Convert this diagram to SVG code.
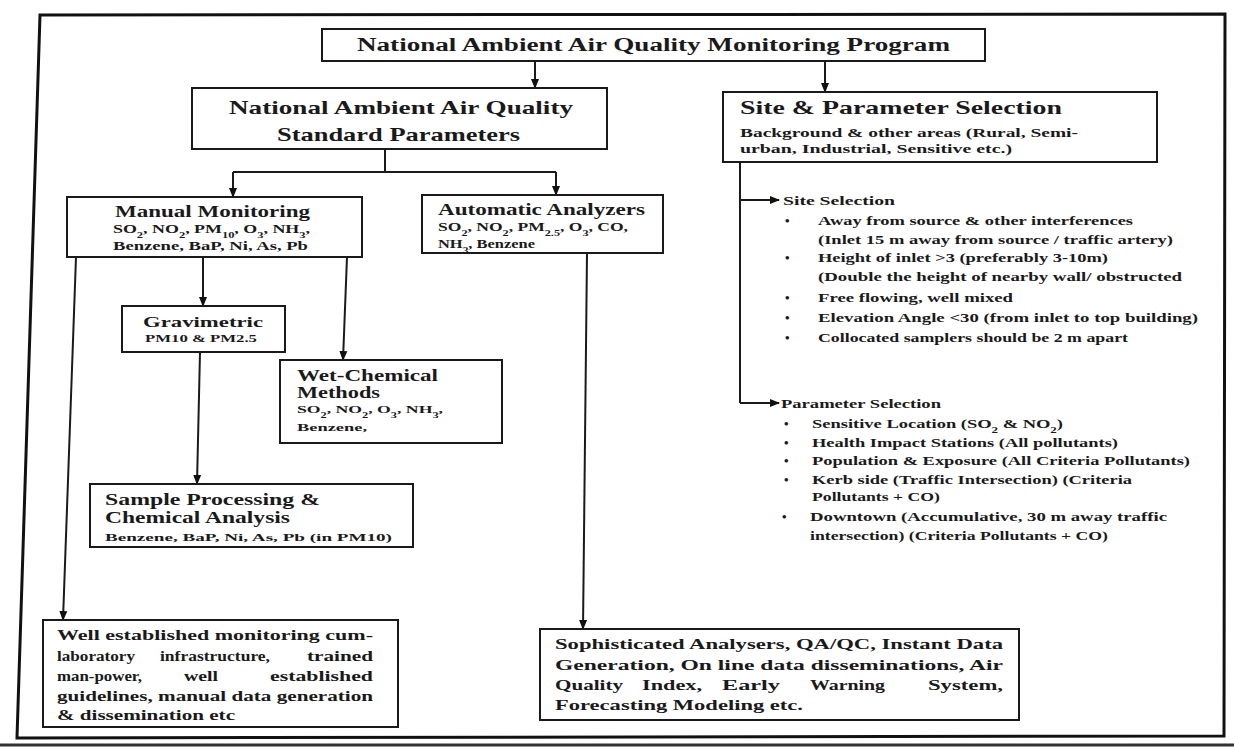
<svg xmlns="http://www.w3.org/2000/svg" width="1234" height="749" viewBox="0 0 1234 749">
<defs>
<marker id="ah" markerWidth="10" markerHeight="10" refX="9" refY="5" orient="auto" markerUnits="userSpaceOnUse"><path d="M0,1 L10,5 L0,9 Z" fill="#111"/></marker>
</defs>
<style>
.box{fill:#fff;stroke:#1a1a1a;stroke-width:2}
.t{font-family:"Liberation Serif","Times New Roman",serif;font-weight:bold;fill:#1a1a1a}
.c{stroke:#1a1a1a;stroke-width:2;fill:none}
.a{marker-end:url(#ah)}
.s{font-size:70%;baseline-shift:sub}
.h1{font-size:18px}
.h2{font-size:16px}
.p{font-size:12px}
.b{font-size:13px}
.j{font-size:14px}
</style>
<rect width="1234" height="749" fill="#fff"/>
<g id="frame">
<polygon points="40,15 1225,14 1224,736 17,738" fill="none" stroke="#111" stroke-width="3"/>
<line x1="0" y1="745" x2="1234" y2="745" stroke="#333" stroke-width="3"/>
</g>
<g id="connectors">
<path class="c a" d="M535,61 V88"/>
<path class="c a" d="M825,61 V92"/>
<path class="c" d="M385,150 V172 M233,172 H556"/>
<path class="c a" d="M233,172 V197"/>
<path class="c a" d="M556,172 V195"/>
<path class="c a" d="M76,257 L63,620"/>
<path class="c a" d="M203,257 V306"/>
<path class="c a" d="M347,257 L343,360"/>
<path class="c a" d="M200,352 L197,484"/>
<path class="c a" d="M587,253 L583,629"/>
<path class="c" d="M740,162 V403"/>
<path class="c a" d="M740,200 H779"/>
<path class="c a" d="M740,403 H779"/>
</g>
<g id="title">
<rect class="box" x="322" y="29" width="663" height="32"/>
<text class="t h1" x="357" y="51" textLength="593" lengthAdjust="spacingAndGlyphs">National Ambient Air Quality Monitoring Program</text>
</g>
<g id="naaqs">
<rect class="box" x="192" y="88" width="415" height="61"/>
<text class="t" font-size="19" x="229" y="114" textLength="344" lengthAdjust="spacingAndGlyphs">National Ambient Air Quality</text>
<text class="t" font-size="19" x="277" y="141" textLength="243" lengthAdjust="spacingAndGlyphs">Standard Parameters</text>
</g>
<g id="site">
<rect class="box" x="723" y="92" width="434" height="70"/>
<text class="t" font-size="19" x="740" y="114" textLength="322" lengthAdjust="spacingAndGlyphs">Site &amp; Parameter Selection</text>
<text class="t p" x="740" y="137" textLength="338" lengthAdjust="spacingAndGlyphs">Background &amp; other areas (Rural, Semi-</text>
<text class="t p" x="740" y="153" textLength="272" lengthAdjust="spacingAndGlyphs">urban, Industrial, Sensitive etc.)</text>
</g>
<g id="manual">
<rect class="box" x="67" y="197" width="295" height="60"/>
<text class="t h2" x="115" y="217" textLength="195" lengthAdjust="spacingAndGlyphs">Manual Monitoring</text>
<text class="t p" x="113" y="233" textLength="197" lengthAdjust="spacingAndGlyphs">SO<tspan class="s">2</tspan>, NO<tspan class="s">2</tspan>, PM<tspan class="s">10</tspan>, O<tspan class="s">3</tspan>, NH<tspan class="s">3</tspan>,</text>
<text class="t p" x="113" y="250" textLength="195" lengthAdjust="spacingAndGlyphs">Benzene, BaP, Ni, As, Pb</text>
</g>
<g id="auto">
<rect class="box" x="422" y="195" width="241" height="58"/>
<text class="t h2" x="438" y="215" textLength="207" lengthAdjust="spacingAndGlyphs">Automatic Analyzers</text>
<text class="t p" x="438" y="231" textLength="190" lengthAdjust="spacingAndGlyphs">SO<tspan class="s">2</tspan>, NO<tspan class="s">2</tspan>, PM<tspan class="s">2.5</tspan>, O<tspan class="s">3</tspan>, CO,</text>
<text class="t p" x="438" y="248" textLength="97" lengthAdjust="spacingAndGlyphs">NH<tspan class="s">3</tspan>, Benzene</text>
</g>
<g id="gravimetric">
<rect class="box" x="122" y="306" width="163" height="46"/>
<text class="t" font-size="15" x="143" y="327" textLength="120" lengthAdjust="spacingAndGlyphs">Gravimetric</text>
<text class="t" font-size="10" x="145" y="342" textLength="112" lengthAdjust="spacingAndGlyphs">PM10 &amp; PM2.5</text>
</g>
<g id="wetchem">
<rect class="box" x="280" y="360" width="222" height="83"/>
<text class="t h2" x="297" y="381" textLength="141" lengthAdjust="spacingAndGlyphs">Wet-Chemical</text>
<text class="t h2" x="297" y="398" textLength="83" lengthAdjust="spacingAndGlyphs">Methods</text>
<text class="t" font-size="11" x="297" y="413" textLength="146" lengthAdjust="spacingAndGlyphs">SO<tspan class="s">2</tspan>, NO<tspan class="s">2</tspan>, O<tspan class="s">3</tspan>, NH<tspan class="s">3</tspan>,</text>
<text class="t" font-size="11" x="297" y="431" textLength="70" lengthAdjust="spacingAndGlyphs">Benzene,</text>
</g>
<g id="sample">
<rect class="box" x="90" y="484" width="323" height="63"/>
<text class="t h2" x="105" y="505" textLength="215" lengthAdjust="spacingAndGlyphs">Sample Processing &amp;</text>
<text class="t h2" x="105" y="523" textLength="185" lengthAdjust="spacingAndGlyphs">Chemical Analysis</text>
<text class="t" font-size="11" x="105" y="541" textLength="287" lengthAdjust="spacingAndGlyphs">Benzene, BaP, Ni, As, Pb (in PM10)</text>
</g>
<g id="siteSelection">
<text class="t b" x="783" y="205" textLength="112" lengthAdjust="spacingAndGlyphs">Site Selection</text>
<g class="t b">
<text x="785" y="225">•</text>
<text x="818" y="225" textLength="315" lengthAdjust="spacingAndGlyphs">Away from source &amp; other interferences</text>
<text x="818" y="244" textLength="355" lengthAdjust="spacingAndGlyphs">(Inlet 15 m away from source / traffic artery)</text>
<text x="785" y="262">•</text>
<text x="818" y="262" textLength="290" lengthAdjust="spacingAndGlyphs">Height of inlet &gt;3 (preferably 3-10m)</text>
<text x="818" y="281" textLength="364" lengthAdjust="spacingAndGlyphs">(Double the height of nearby wall/ obstructed</text>
<text x="785" y="302">•</text>
<text x="818" y="302" textLength="195" lengthAdjust="spacingAndGlyphs">Free flowing, well mixed</text>
<text x="785" y="322">•</text>
<text x="818" y="322" textLength="380" lengthAdjust="spacingAndGlyphs">Elevation Angle &lt;30 (from inlet to top building)</text>
<text x="785" y="342">•</text>
<text x="818" y="342" textLength="310" lengthAdjust="spacingAndGlyphs">Collocated samplers should be 2 m apart</text>
</g>
</g>
<g id="parameterSelection">
<text class="t b" x="781" y="408" textLength="160" lengthAdjust="spacingAndGlyphs">Parameter Selection</text>
<g class="t b">
<text x="784" y="428">•</text>
<text x="812" y="428" textLength="251" lengthAdjust="spacingAndGlyphs">Sensitive Location (SO<tspan class="s">2</tspan> &amp; NO<tspan class="s">2</tspan>)</text>
<text x="784" y="447">•</text>
<text x="812" y="447" textLength="306" lengthAdjust="spacingAndGlyphs">Health Impact Stations (All pollutants)</text>
<text x="784" y="465">•</text>
<text x="812" y="465" textLength="378" lengthAdjust="spacingAndGlyphs">Population &amp; Exposure (All Criteria Pollutants)</text>
<text x="784" y="484">•</text>
<text x="812" y="484" textLength="320" lengthAdjust="spacingAndGlyphs">Kerb side (Traffic Intersection) (Criteria</text>
<text x="812" y="501" textLength="128" lengthAdjust="spacingAndGlyphs">Pollutants + CO)</text>
<text x="782" y="521">•</text>
<text x="810" y="521" textLength="357" lengthAdjust="spacingAndGlyphs">Downtown (Accumulative, 30 m away traffic</text>
<text x="810" y="540" textLength="298" lengthAdjust="spacingAndGlyphs">intersection) (Criteria Pollutants + CO)</text>
</g>
</g>
<g id="manualOutcome">
<rect class="box" x="43" y="620" width="355" height="107"/>
<g class="t j">
<text x="57" y="640" textLength="316" lengthAdjust="spacingAndGlyphs">Well established monitoring cum-</text>
<text x="57" y="661" textLength="78" lengthAdjust="spacingAndGlyphs">laboratory</text>
<text x="160" y="661" textLength="110" lengthAdjust="spacingAndGlyphs">infrastructure,</text>
<text x="307" y="661" textLength="66" lengthAdjust="spacingAndGlyphs">trained</text>
<text x="57" y="681" textLength="85" lengthAdjust="spacingAndGlyphs">man-power,</text>
<text x="184" y="681" textLength="34" lengthAdjust="spacingAndGlyphs">well</text>
<text x="270" y="681" textLength="103" lengthAdjust="spacingAndGlyphs">established</text>
<text x="57" y="701" textLength="316" lengthAdjust="spacingAndGlyphs">guidelines, manual data generation</text>
<text x="57" y="720" textLength="178" lengthAdjust="spacingAndGlyphs">&amp; dissemination etc</text>
</g>
</g>
<g id="autoOutcome">
<rect class="box" x="540" y="629" width="479" height="91"/>
<g class="t j">
<text x="555" y="649" textLength="448" lengthAdjust="spacingAndGlyphs">Sophisticated Analysers, QA/QC, Instant Data</text>
<text x="555" y="670" textLength="448" lengthAdjust="spacingAndGlyphs">Generation, On line data disseminations, Air</text>
<text x="555" y="690" textLength="68" lengthAdjust="spacingAndGlyphs">Quality</text>
<text x="642" y="690" textLength="60" lengthAdjust="spacingAndGlyphs">Index,</text>
<text x="722" y="690" textLength="58" lengthAdjust="spacingAndGlyphs">Early</text>
<text x="810" y="690" textLength="75" lengthAdjust="spacingAndGlyphs">Warning</text>
<text x="928" y="690" textLength="75" lengthAdjust="spacingAndGlyphs">System,</text>
<text x="555" y="710" textLength="248" lengthAdjust="spacingAndGlyphs">Forecasting Modeling etc.</text>
</g>
</g>
</svg>
